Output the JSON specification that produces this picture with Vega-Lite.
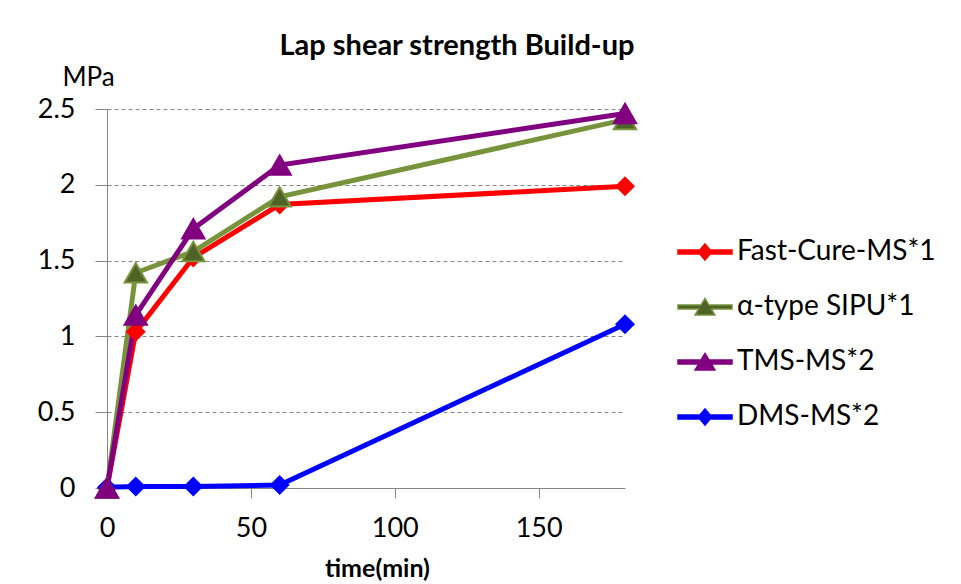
{
  "$schema": "https://vega.github.io/schema/vega-lite/v6.json",
  "autosize": "none",
  "width": 518,
  "height": 379,
  "padding": {"left": 107, "top": 109, "right": 336, "bottom": 96},
  "background": "white",
  "config": {
    "font": "Lato",
    "view": {"stroke": null},
    "axis": {"labelFont": "Lato", "titleFont": "Lato", "labelColor": "#000000", "titleColor": "#000000"}
  },
  "title": {
    "text": "Lap shear strength Build-up",
    "anchor": "middle",
    "frame": "group",
    "dx": 91,
    "fontSize": 29,
    "fontWeight": "bold",
    "font": "Lato",
    "color": "#000000",
    "offset": 3
  },
  "data": {
    "values": [
      {"series": "Fast-Cure-MS*1", "time": 0, "mpa": 0},
      {"series": "Fast-Cure-MS*1", "time": 10, "mpa": 1.03},
      {"series": "Fast-Cure-MS*1", "time": 30, "mpa": 1.52},
      {"series": "Fast-Cure-MS*1", "time": 60, "mpa": 1.87},
      {"series": "Fast-Cure-MS*1", "time": 180, "mpa": 1.99},
      {"series": "α-type SIPU*1", "time": 0, "mpa": 0},
      {"series": "α-type SIPU*1", "time": 10, "mpa": 1.42},
      {"series": "α-type SIPU*1", "time": 30, "mpa": 1.56},
      {"series": "α-type SIPU*1", "time": 60, "mpa": 1.92},
      {"series": "α-type SIPU*1", "time": 180, "mpa": 2.43},
      {"series": "TMS-MS*2", "time": 0, "mpa": 0},
      {"series": "TMS-MS*2", "time": 10, "mpa": 1.14},
      {"series": "TMS-MS*2", "time": 30, "mpa": 1.71},
      {"series": "TMS-MS*2", "time": 60, "mpa": 2.13},
      {"series": "TMS-MS*2", "time": 180, "mpa": 2.47},
      {"series": "DMS-MS*2", "time": 0, "mpa": 0.005},
      {"series": "DMS-MS*2", "time": 10, "mpa": 0.01},
      {"series": "DMS-MS*2", "time": 30, "mpa": 0.01},
      {"series": "DMS-MS*2", "time": 60, "mpa": 0.02},
      {"series": "DMS-MS*2", "time": 180, "mpa": 1.08}
    ]
  },
  "encoding": {
    "x": {
      "field": "time",
      "type": "quantitative",
      "scale": {"domain": [0, 180], "nice": false, "zero": false},
      "axis": {
        "values": [0, 50, 100, 150],
        "title": "time(min)",
        "titleFontSize": 25,
        "titleFontWeight": "bold",
        "titlePadding": 15,
        "titleX": 270,
        "titleAlign": "center",
        "labelFontSize": 27,
        "labelPadding": 17,
        "labelFlush": false,
        "tickSize": 10,
        "tickColor": "#868686",
        "domainColor": "#868686",
        "grid": false
      }
    },
    "y": {
      "field": "mpa",
      "type": "quantitative",
      "scale": {"domain": [0, 2.5], "nice": false},
      "axis": {
        "values": [0, 0.5, 1, 1.5, 2, 2.5],
        "format": "~g",
        "title": "MPa",
        "titleAngle": 0,
        "titleX": -19,
        "titleY": -24,
        "titleAlign": "center",
        "titleBaseline": "alphabetic",
        "titleFontSize": 26,
        "titleFontWeight": "normal",
        "labelFontSize": 27,
        "labelPadding": 20,
        "labelFlush": false,
        "tickSize": 12,
        "tickColor": "#868686",
        "domainColor": "#868686",
        "grid": true,
        "gridColor": "#868686",
        "gridDash": [4, 3],
        "gridWidth": 1
      }
    }
  },
  "layer": [
    {
      "mark": {"type": "line", "strokeWidth": 5},
      "encoding": {
        "stroke": {
          "field": "series",
          "type": "nominal",
          "scale": {
            "domain": ["Fast-Cure-MS*1", "α-type SIPU*1", "TMS-MS*2", "DMS-MS*2"],
            "range": ["#FF0000", "#77933C", "#800080", "#0000FF"]
          },
          "legend": {
            "title": null,
            "orient": "none",
            "legendX": 584,
            "legendY": 129,
            "labelFontSize": 28,
            "labelFont": "Lato",
            "labelColor": "#000000",
            "labelOffset": 18,
            "rowPadding": 27,
            "symbolSize": 324,
            "labelLimit": 400,
            "encode": {
              "symbols": {
                "update": {
                  "shape": {"signal": "(datum.value === 'Fast-Cure-MS*1' || datum.value === 'DMS-MS*2') ? 'M-3,-0.22L-0.56,-0.22L0,-0.9L0.56,-0.22L3,-0.22L3,0.22L0.56,0.22L0,0.9L-0.56,0.22L-3,0.22Z' : 'M-3,-0.22L-0.45,-0.22L0,-0.95L0.45,-0.22L3,-0.22L3,0.22L0.7,0.22L1.1,0.9L-1.1,0.9L-0.7,0.22L-3,0.22Z'"},
                  "size": {"value": 324},
                  "fill": {"signal": "datum.value === 'Fast-Cure-MS*1' ? '#FF0000' : datum.value === 'α-type SIPU*1' ? '#4F6228' : datum.value === 'TMS-MS*2' ? '#800080' : '#0000FF'"},
                  "stroke": {"signal": "datum.value === 'α-type SIPU*1' ? '#77933C' : 'transparent'"},
                  "strokeWidth": {"value": 1.5},
                  "opacity": {"value": 1},
                  "fillOpacity": {"value": 1},
                  "strokeOpacity": {"value": 1}
                }
              }
            }
          }
        }
      }
    },
    {
      "transform": [{"filter": "datum.series === 'Fast-Cure-MS*1' || datum.series === 'DMS-MS*2'"}],
      "mark": {"type": "point", "shape": "diamond", "filled": true, "opacity": 1, "size": 400},
      "encoding": {
        "fill": {
          "field": "series",
          "type": "nominal",
          "scale": {
            "domain": ["Fast-Cure-MS*1", "α-type SIPU*1", "TMS-MS*2", "DMS-MS*2"],
            "range": ["#FF0000", "#4F6228", "#800080", "#0000FF"]
          },
          "legend": null
        }
      }
    },
    {
      "transform": [{"filter": "datum.series === 'α-type SIPU*1' || datum.series === 'TMS-MS*2'"}],
      "mark": {"type": "point", "shape": "triangle-up", "filled": true, "opacity": 1, "size": 500, "strokeWidth": 2},
      "encoding": {
        "fill": {"field": "series", "type": "nominal", "legend": null},
        "stroke": {"field": "series", "type": "nominal", "legend": null}
      }
    }
  ]
}
